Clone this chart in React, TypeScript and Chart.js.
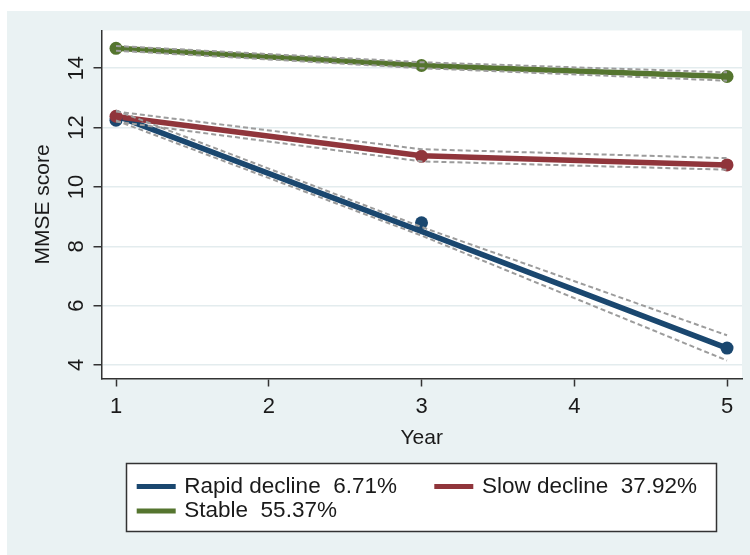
import React, { useEffect, useRef } from 'react';
import { Chart, registerables } from 'chart.js';

Chart.register(...registerables);

const years = [1, 3, 5];
const xTickValues = [1, 2, 3, 4, 5];
const yTickValues = [4, 6, 8, 10, 12, 14];

const groupNames = ['Rapid decline', 'Slow decline', 'Stable'];
const groupShares = ['6.71%', '37.92%', '55.37%'];
const groupColors = ['#1a476f', '#90353b', '#55752f'];

const rapidObserved = [12.25, 8.79, 4.57];
const rapidFit = [12.4, 8.5, 4.57];
const rapidUpper = [12.58, 8.65, 5.0];
const rapidLower = [12.24, 8.36, 4.15];

const slowObserved = [12.38, 11.03, 10.74];
const slowFit = [12.37, 11.05, 10.74];
const slowUpper = [12.54, 11.27, 10.97];
const slowLower = [12.2, 10.86, 10.58];

const stableObserved = [14.67, 14.09, 13.72];
const stableFit = [14.67, 14.09, 13.72];
const stableUpper = [14.75, 14.2, 13.86];
const stableLower = [14.59, 14.0, 13.58];

const FONT = '"Liberation Sans", Arial, Helvetica, sans-serif';
const TEXT = '#1a1a1a';
const AXIS = '#333333';
const BG = '#eaf2f3';

const bgPlugin = {
  id: 'stataBg',
  beforeDraw(chart: any) {
    const { ctx, chartArea: a, width, height } = chart;
    ctx.save();
    ctx.fillStyle = '#ffffff';
    ctx.fillRect(0, 0, width, height);
    ctx.fillStyle = BG;
    ctx.fillRect(7, 11, width - 7, height - 11);
    ctx.fillStyle = '#ffffff';
    ctx.fillRect(a.left, a.top, a.right - a.left, a.bottom - a.top);
    ctx.restore();
  },
};

const legendPlugin = {
  id: 'boxLegend',
  afterDraw(chart: any) {
    const ctx = chart.ctx;
    const entries = chart.data.datasets.filter((d: any) => d.isFit);
    const bx = 126.5, by = 463.5, bw = 590, bh = 68;
    ctx.save();
    ctx.fillStyle = '#ffffff';
    ctx.fillRect(bx, by, bw, bh);
    ctx.strokeStyle = AXIS;
    ctx.lineWidth = 1.5;
    ctx.strokeRect(bx, by, bw, bh);
    ctx.font = `22.5px ${FONT}`;
    ctx.textBaseline = 'middle';
    ctx.textAlign = 'left';
    entries.forEach((d: any, i: number) => {
      const col = i === 1 ? 1 : 0;
      const row = i === 2 ? 1 : 0;
      const sx = 136.7 + col * 297.6;
      const sy = 486.5 + row * 24.5;
      ctx.strokeStyle = d.borderColor;
      ctx.lineWidth = 5;
      ctx.beginPath();
      ctx.moveTo(sx, sy);
      ctx.lineTo(sx + 39, sy);
      ctx.stroke();
      ctx.fillStyle = TEXT;
      ctx.fillText(d.label, sx + 47.6, sy);
    });
    ctx.restore();
  },
};

export default function App() {
  const ref = useRef<HTMLCanvasElement>(null);

  useEffect(() => {
    const canvas = ref.current!;
    const pts = (ys: number[]) => years.map((x, i) => ({ x, y: ys[i] }));
    const fits = [rapidFit, slowFit, stableFit];
    const obs = [rapidObserved, slowObserved, stableObserved];
    const ups = [rapidUpper, slowUpper, stableUpper];
    const lows = [rapidLower, slowLower, stableLower];

    const datasets: any[] = [];
    groupNames.forEach((name, g) => {
      datasets.push({
        label: `${name}  ${groupShares[g]}`,
        isFit: true,
        data: pts(fits[g]),
        borderColor: groupColors[g],
        backgroundColor: groupColors[g],
        borderWidth: 5.5,
        pointRadius: 0,
        order: g === 0 ? 6 : 5,
      });
    });
    groupNames.forEach((name, g) => {
      datasets.push({
        label: `${name} observed`,
        data: pts(obs[g]),
        showLine: false,
        pointRadius: 6.5,
        pointBorderWidth: 0,
        pointBackgroundColor: groupColors[g],
        borderColor: groupColors[g],
        order: g === 0 ? 4 : 3,
      });
    });
    groupNames.forEach((name, g) => {
      [ups[g], lows[g]].forEach((arr, k) => {
        datasets.push({
          label: `${name} ${k === 0 ? 'upper' : 'lower'} CI`,
          data: pts(arr),
          borderColor: '#9c9c9c',
          borderWidth: 2,
          borderDash: [5, 3],
          pointRadius: 0,
          order: 1,
        });
      });
    });

    const chart = new Chart(canvas, {
      type: 'line',
      data: { datasets },
      options: {
        responsive: false,
        animation: false,
        devicePixelRatio: 1,
        events: [],
        layout: { padding: { left: 0, right: 8, top: 30.5, bottom: 0 } },
        elements: { line: { tension: 0 } },
        plugins: { legend: { display: false }, tooltip: { enabled: false } },
        scales: {
          x: {
            type: 'linear',
            min: 0.905,
            max: 5.098,
            afterBuildTicks: (s: any) => {
              s.ticks = xTickValues.map((v) => ({ value: v }));
            },
            afterFit: (s: any) => {
              s.height = 176.5;
            },
            grid: {
              drawOnChartArea: false,
              drawTicks: true,
              tickLength: 8,
              tickColor: AXIS,
              tickWidth: 1.5,
            },
            border: { display: true, color: AXIS, width: 1.5 },
            ticks: {
              font: { size: 22, family: FONT },
              color: TEXT,
              padding: 7.3,
              minRotation: 0,
              maxRotation: 0,
              autoSkip: false,
            },
            title: {
              display: true,
              text: 'Year',
              font: { size: 21, family: FONT },
              color: TEXT,
              padding: { top: 0, bottom: 104.4 },
            },
          },
          y: {
            type: 'linear',
            min: 3.545,
            max: 15.27,
            afterBuildTicks: (s: any) => {
              s.ticks = yTickValues.map((v) => ({ value: v }));
            },
            afterFit: (s: any) => {
              s.width = 101.5;
            },
            grid: {
              color: '#e3ecee',
              lineWidth: 1.5,
              drawTicks: true,
              tickLength: 8,
              tickColor: AXIS,
              tickWidth: 1.5,
            },
            border: { display: true, color: AXIS, width: 1.5 },
            ticks: {
              font: { size: 22, family: FONT },
              color: TEXT,
              padding: 4.3,
              minRotation: 90,
              maxRotation: 90,
              crossAlign: 'center',
              autoSkip: false,
            },
            title: {
              display: true,
              text: 'MMSE score',
              font: { size: 21, family: FONT },
              color: TEXT,
              padding: { top: 30.4, bottom: 0 },
            },
          },
        },
      } as any,
      plugins: [bgPlugin, legendPlugin],
    });
    return () => chart.destroy();
  }, []);

  return (
    <div style={{ position: 'absolute', left: 0, top: 0, width: 750, height: 555 }}>
      <canvas ref={ref} width={750} height={555} style={{ display: 'block' }} />
    </div>
  );
}
